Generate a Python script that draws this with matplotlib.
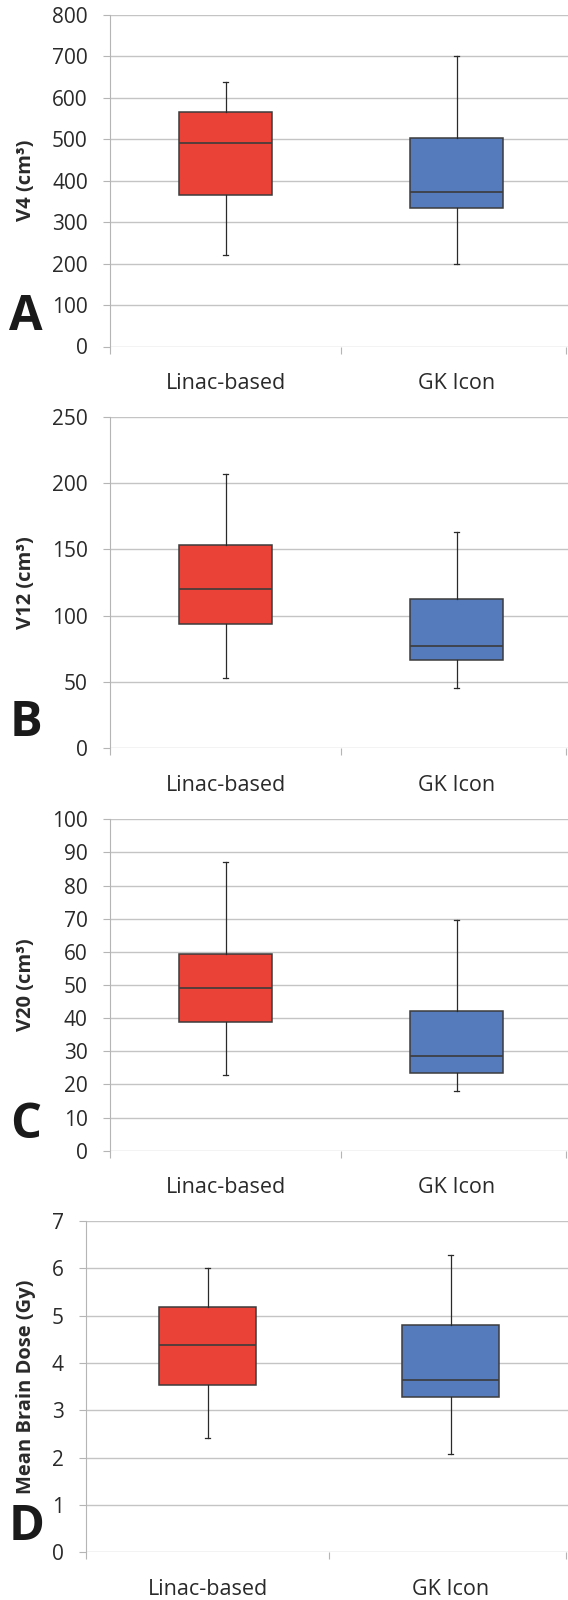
import matplotlib
matplotlib.use("Agg")
import matplotlib.pyplot as plt

plt.rcParams['font.family'] = ['Open Sans', 'DejaVu Sans']

groups = ["Linac-based", "GK Icon"]
box_colors = ["#EB4237", "#557BBD"]

# five-number summaries: whisker low, Q1, median, Q3, whisker high
v4_linac = [220, 366, 490, 567, 638]
v4_gk = [200, 334, 372, 503, 702]
v12_linac = [53, 94, 120, 153, 207]
v12_gk = [45.5, 66.8, 77.5, 112.5, 163]
v20_linac = [22.9, 38.7, 49.2, 59.2, 87.2]
v20_gk = [17.9, 23.4, 28.7, 42.0, 69.6]
mbd_linac = [2.42, 3.54, 4.38, 5.18, 6.0]
mbd_gk = [2.07, 3.27, 3.64, 4.81, 6.27]

ylabels = ["V4 (cm³)", "V12 (cm³)", "V20 (cm³)", "Mean Brain Dose (Gy)"]
letters = ["A", "B", "C", "D"]
yranges = [(0, 800, 100), (0, 250, 50), (0, 100, 10), (0, 7, 1)]
panels = [(v4_linac, v4_gk), (v12_linac, v12_gk), (v20_linac, v20_gk), (mbd_linac, mbd_gk)]

W, H = 568, 1600
fig = plt.figure(figsize=(W / 100, H / 100), dpi=100)

# pixel layout: axes left, axes bottom (px from top), px per category
layout = [(110, 346.5, 231), (110, 748.3, 231), (110, 1150.7, 231), (86, 1552.3, 243)]
letter_pos = [(26, 317.5), (26, 723.3), (26, 1125.7), (27, 1527.5)]
plot_h = 331.5

for i, ((left, bot, spacing), (lin, gk)) in enumerate(zip(layout, panels)):
    ax = fig.add_axes([left / W, 1 - bot / H, (W - left) / W, plot_h / H])
    stats = []
    for name, s in zip(groups, (lin, gk)):
        stats.append(dict(label=name, whislo=s[0], q1=s[1], med=s[2], q3=s[3], whishi=s[4], fliers=[]))
    bp = ax.bxp(stats, positions=[1, 2], widths=0.40, patch_artist=True, showfliers=False,
                capwidths=0.022,
                boxprops=dict(edgecolor="#3c3c3c", linewidth=1.1),
                medianprops=dict(color="#3c3c3c", linewidth=1.2),
                whiskerprops=dict(color="#2a2a2a", linewidth=0.9),
                capprops=dict(color="#2a2a2a", linewidth=0.9))
    for patch, c in zip(bp["boxes"], box_colors):
        patch.set_facecolor(c)

    lo, hi, step = yranges[i]
    ax.set_ylim(lo, hi)
    ax.set_yticks([lo + k * step for k in range(int(round((hi - lo) / step)) + 1)])
    xmax = 0.5 + (W - left) / spacing
    ax.set_xlim(0.5, xmax)
    ax.set_xticks([1, 2])
    ax.set_xticklabels(groups)
    ax.set_xticks([0.5, 1.5, xmax - 0.01], minor=True)
    ax.tick_params(axis="x", which="major", length=0, pad=19, labelsize=15.5, colors="#2a2a2a")
    ax.tick_params(axis="x", which="minor", length=5, width=0.8, color="#b5b5b5", direction="out")
    ax.tick_params(axis="y", length=5, width=0.8, color="#b5b5b5", pad=11, labelsize=15,
                   labelcolor="#2a2a2a")
    ax.yaxis.grid(True, color="#c4c4c4", linewidth=1.0)
    ax.set_axisbelow(True)
    for side in ["top", "right", "bottom"]:
        ax.spines[side].set_visible(False)
    ax.spines["left"].set_color("#b5b5b5")
    ax.spines["left"].set_linewidth(0.8)

    ax.set_ylabel(ylabels[i], fontsize=14.5, fontweight="bold", color="#2a2a2a")
    ax.yaxis.set_label_coords((36 - left) / (W - left), 0.5)

    lx, ly = letter_pos[i]
    fig.text(lx / W, 1 - ly / H, letters[i], fontsize=35, fontweight="bold",
             ha="center", va="center", color="#1a1a1a")

fig.savefig("out.png", dpi=100)
